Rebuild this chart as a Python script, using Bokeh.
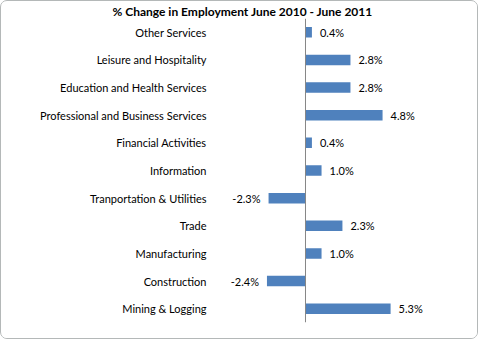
from bokeh.plotting import figure
from bokeh.models import ColumnDataSource, FactorRange, Range1d, Span
from bokeh.embed import file_html
from bokeh.resources import INLINE

title_text = "% Change in Employment June 2010 - June 2011"
categories = [
    "Other Services",
    "Leisure and Hospitality",
    "Education and Health Services",
    "Professional and Business Services",
    "Financial Activities",
    "Information",
    "Tranportation & Utilities",
    "Trade",
    "Manufacturing",
    "Construction",
    "Mining & Logging",
]
values = [0.4, 2.8, 2.8, 4.8, 0.4, 1.0, -2.3, 2.3, 1.0, -2.4, 5.3]

FONT = "Lato"
BAR = "#4F81BD"

labels = [f"{v:.1f}%" for v in values]
pos = [i for i, v in enumerate(values) if v >= 0]
neg = [i for i, v in enumerate(values) if v < 0]

src = ColumnDataSource(dict(cat=categories, val=values, lab=labels))
src_pos = ColumnDataSource(dict(cat=[categories[i] for i in pos],
                                val=[values[i] for i in pos],
                                lab=[labels[i] for i in pos]))
src_neg = ColumnDataSource(dict(cat=[categories[i] for i in neg],
                                val=[values[i] for i in neg],
                                lab=[labels[i] for i in neg]))

p = figure(
    width=478, height=339,
    y_range=FactorRange(factors=list(reversed(categories))),
    x_range=Range1d(-5.48, 8.47),
    output_backend="svg", toolbar_location=None,
    min_border_left=216, min_border_right=38,
    min_border_top=0, min_border_bottom=18,
)
p.styles = {"border": "1px solid #b4b8b8", "border-radius": "7px", "overflow": "hidden"}

p.title.text = title_text
p.title.align = "left"
p.title.offset = -105
p.title.text_font = FONT
p.title.text_font_size = "12px"
p.title.text_font_style = "bold"
p.title.text_color = "#000000"
p.title.standoff = 0

p.hbar(y="cat", right="val", left=0, height=0.38, source=src,
       fill_color=BAR, line_color=None)

p.add_layout(Span(location=0, dimension="height", line_color="#868686", line_width=1))

p.text(x="val", y="cat", text="lab", source=src_pos, x_offset=8,
       text_align="left", text_baseline="middle",
       text_font={"value": FONT}, text_font_size="11px", text_color="#000000")
p.text(x="val", y="cat", text="lab", source=src_neg, x_offset=-8,
       text_align="right", text_baseline="middle",
       text_font={"value": FONT}, text_font_size="11px", text_color="#000000")

p.xaxis.visible = False
p.yaxis.axis_line_color = None
p.yaxis.major_tick_line_color = None
p.yaxis.minor_tick_line_color = None
p.yaxis.major_label_standoff = 5
p.yaxis.major_label_text_font = FONT
p.yaxis.major_label_text_font_size = "11px"
p.yaxis.major_label_text_color = "#000000"
p.xgrid.visible = False
p.ygrid.visible = False
p.outline_line_color = None

open("out.html", "w").write(file_html(p, INLINE))
